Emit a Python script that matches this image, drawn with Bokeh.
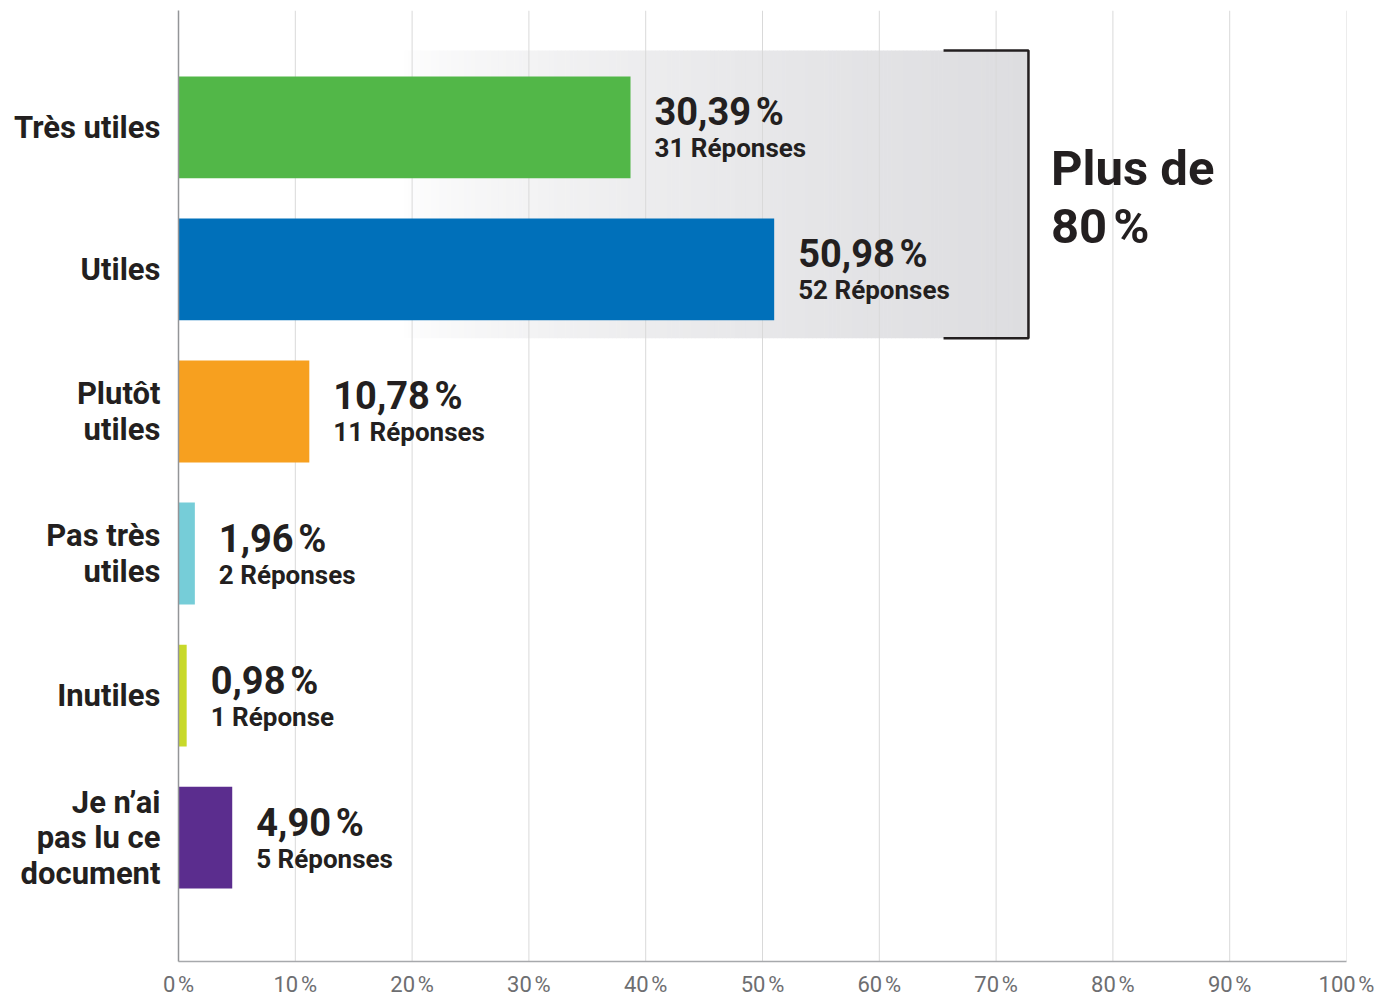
from bokeh.plotting import figure
from bokeh.models import Range1d, FixedTicker, ColumnDataSource, Label
from bokeh.core.properties import value
from bokeh.embed import file_html
from bokeh.resources import INLINE

categories = ["Très utiles", "Utiles", "Plutôt\nutiles", "Pas très\nutiles", "Inutiles",
              "Je n’ai\npas lu ce\ndocument"]
bar_length = [38.7, 51.0, 11.2, 1.4, 0.7, 4.6]
pct_labels = ["30,39\u202f%", "50,98\u202f%", "10,78\u202f%", "1,96\u202f%", "0,98\u202f%", "4,90\u202f%"]
resp_labels = ["31 Réponses", "52 Réponses", "11 Réponses", "2 Réponses", "1 Réponse", "5 Réponses"]
colors = ["#52b748", "#0070ba", "#f7a01f", "#76cdd8", "#c8d92a", "#5b2d8e"]
x_ticks = [0, 10, 20, 30, 40, 50, 60, 70, 80, 90, 100]
bracket_text = ["Plus de", "80\u202f%"]

FONT = "Roboto"
DARK = "#231f20"
Y0, Y1 = 5.872, -0.823

p = figure(width=1380, height=999, output_backend="svg", toolbar_location=None,
           x_range=Range1d(0, 100), y_range=Range1d(Y0, Y1),
           min_border_left=178, min_border_right=34, min_border_top=10, min_border_bottom=37)
p.outline_line_color = None
p.xgrid.visible = False
p.ygrid.visible = False
p.background_fill_color = "white"

# gradient highlight box behind the two first bars
n = 160
x0, x1 = 19.0, 72.77
lefts, rights, cols = [], [], []
for k in range(n):
    t = k / (n - 1)
    f = t ** 0.65
    g = int(round(255 - 34 * f))
    b = int(round(255 - 31 * f))
    lefts.append(x0 + (x1 - x0) * k / n)
    rights.append(x0 + (x1 - x0) * (k + 1) / n + 0.05)
    cols.append("#%02x%02x%02x" % (g, g, b))
p.quad(left=lefts, right=rights, top=[-0.5415] * n, bottom=[1.484] * n,
       fill_color=cols, line_color=None)

# grid lines
p.segment(x0=x_ticks[1:], x1=x_ticks[1:], y0=[Y1] * 10, y1=[Y0] * 10,
          line_color="#d9d9d9", line_width=1)

# bars
idx = list(range(len(categories)))
src = ColumnDataSource(dict(y=idx, right=bar_length, color=colors, pct=pct_labels, resp=resp_labels))
p.hbar(y="y", left=0, right="right", height=0.717, fill_color="color", line_color=None, source=src)

# value labels
p.text(x="right", y="y", text="pct", source=src, x_offset=24, y_offset=-15,
       text_font=value(FONT), text_font_style="bold", text_font_size="38px",
       text_color=DARK, text_baseline="middle", text_align="left")
p.text(x="right", y="y", text="resp", source=src, x_offset=24, y_offset=21,
       text_font=value(FONT), text_font_style="bold", text_font_size="26px",
       text_color=DARK, text_baseline="middle", text_align="left")

# bracket
p.line(x=[65.5, 72.77, 72.77, 65.5], y=[-0.5415, -0.5415, 1.484, 1.484],
       line_color=DARK, line_width=2.5)
p.add_layout(Label(x=74.7, y=0.288, text=bracket_text[0], text_font=FONT, text_font_style="bold",
                   text_font_size="49px", text_color=DARK, text_baseline="middle"))
p.add_layout(Label(x=74.7, y=0.696, text=bracket_text[1], text_font=FONT, text_font_style="bold",
                   text_font_size="49px", text_color=DARK, text_baseline="middle"))

# axes
p.xaxis.ticker = FixedTicker(ticks=x_ticks)
p.xaxis.major_label_overrides = {t: "%d\u202f%%" % t for t in x_ticks}
p.xaxis.major_tick_line_color = None
p.xaxis.major_tick_out = 0
p.xaxis.major_tick_in = 0
p.xaxis.minor_tick_line_color = None
p.xaxis.axis_line_color = "#a7a9ac"
p.xaxis.axis_line_width = 1.5
p.xaxis.major_label_text_font = FONT
p.xaxis.major_label_text_font_size = "22px"
p.xaxis.major_label_text_color = "#6d6e71"
p.xaxis.major_label_standoff = 10

p.yaxis.ticker = FixedTicker(ticks=idx)
p.yaxis.major_label_overrides = {i: c for i, c in zip(idx, categories)}
p.yaxis.major_tick_line_color = None
p.yaxis.major_tick_out = 0
p.yaxis.major_tick_in = 0
p.yaxis.minor_tick_line_color = None
p.yaxis.axis_line_color = "#939598"
p.yaxis.axis_line_width = 1.5
p.yaxis.major_label_text_font = FONT
p.yaxis.major_label_text_font_style = "bold"
p.yaxis.major_label_text_font_size = "31px"
p.yaxis.major_label_text_color = DARK
p.yaxis.major_label_text_align = "right"
p.yaxis.major_label_text_line_height = 0.96
p.yaxis.major_label_standoff = 18

open("out.html", "w").write(file_html(p, INLINE))
